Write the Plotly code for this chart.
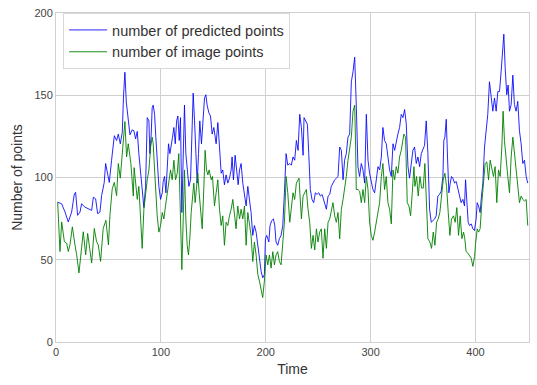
import plotly.graph_objects as go

# Time values and series values
t_pred = [1.6, 5.4, 8.6, 11.7, 14.9, 17.5, 18.7, 20.6, 22.9, 24.4, 27.6, 30.8, 34, 35.6, 37.8, 39.7, 41.9, 43.5, 46,
          47.3, 49.2, 50.8, 53, 55.6, 57.8, 59.4, 61.3, 63.2, 64.4, 65.7, 67, 68.9, 70.5, 72.7, 74.3, 75.9, 77.5, 79,
          80.6, 82.2, 83.8, 85.4, 87, 88.6, 89.5, 90.8, 91.7, 92.7, 94, 95.2, 96.5, 98.1, 99.7, 101.3, 102.2, 103.5,
          104.8, 106, 107.3, 108.6, 109.8, 111.1, 112.4, 113.7, 115, 116.2, 117.5, 118.7, 120, 121.3, 122.5, 123.8,
          125.1, 126.7, 128.3, 129.5, 130.8, 132.1, 133.3, 134.6, 135.9, 137.1, 138.7, 140.3, 141.6, 142.9, 144.1,
          145.7, 147.3, 148.9, 150.5, 152.7, 154.3, 155.9, 157.5, 159, 160.6, 162.2, 163.8, 165.4, 167, 167.9, 169.2,
          170.8, 172.4, 173.7, 175, 176.5, 178.1, 179.7, 181.3, 182.9, 184.4, 186, 187.6, 189.2, 190.8, 192.4, 194,
          195.6, 197.1, 198.7, 199.7, 200.9, 202.9, 204.1, 205.7, 207.3, 208.6, 209.8, 211.4, 213, 214.6, 216.2,
          217.8, 219.4, 221, 222.9, 224.4, 226, 227.6, 229.2, 230.8, 232.4, 234, 235.6, 236.5, 238.1, 239.7, 241,
          242.5, 244.1, 245.7, 247.3, 248.9, 250.5, 252.1, 253.7, 255.2, 256.5, 257.8, 259.4, 261, 262.5, 264.1,
          265.7, 267.3, 268.9, 270.5, 272.1, 273.7, 275.2, 276.8, 278.4, 280, 281.6, 283.2, 284.8, 286.3, 287.9,
          289.5, 291.1, 292.7, 294.3, 295.9, 297.5, 299, 300.6, 302.2, 303.8, 305.4, 307, 308.6, 310.2, 311.7,
          313.3, 314.9, 316.5, 318.1, 319.7, 321.3, 322.9, 324.4, 326, 327.6, 329.2, 330.8, 332.4, 334, 335.6,
          337.1, 340.3, 341.9, 343.5, 345.1, 346.7, 348.3, 349.8, 351.4, 353, 354.6, 356.2, 357.8, 359.4, 361,
          362.5, 364.1, 365.7, 367.3, 368.9, 369.8, 370.8, 372.1, 373.3, 374.6, 375.9, 377.1, 378.4, 380, 381.6,
          383.2, 384.8, 386.3, 387.9, 389.5, 390.5, 391.7, 393, 394.3, 395.9, 397.5, 399, 400.6, 401.6, 402.9,
          404.4, 405.7, 407, 408.6, 410.2, 411.7, 413.3, 414.9, 416.5, 418.1, 419.7, 421.3, 422.9, 424.4, 426, 427,
          428.3, 429.8, 431.1, 432.4, 434, 435.6, 437.1, 438.7, 440.3, 441.9, 443.5, 445.1, 446.7, 448.3, 449.8]
predicted = [85, 84, 79, 73, 79, 90, 91, 77, 79, 84, 82, 81, 80, 88, 87, 78, 79, 89, 97,
             108.5, 102.6, 97, 110.5, 125.4, 122.5, 126.4, 120.5, 127.4, 150, 164, 146, 134, 126, 129, 128.4, 123.5,
             128, 114.5, 104.6, 90.7, 81.7, 94.6, 136.4, 134.4, 114.5, 126.4, 142.3, 144, 138.4, 124.5, 108.5, 94.6,
             86.7, 90.7, 97.6, 100.6, 90.7, 108.5, 120.5, 114.5, 118.5, 124.5, 130.4, 120.5, 134.4, 137.4, 122.5,
             136.4, 78.7, 122.5, 144, 114.5, 104.6, 94.6, 98.6, 124.5, 151.3, 134.4, 118.5, 96.6, 114.5, 134.4,
             120.5, 134.4, 148.3, 150.3, 144, 139.4, 137.4, 126.4, 130.4, 120.5, 133.4, 118.5, 102.6, 104.6, 95.6,
             101.6, 96.6, 99.6, 104.6, 112.5, 98.6, 113.5, 100.6, 95.6, 104.6, 108.5, 96.6, 90.7, 82.7, 94.6, 86.7,
             78.7, 64.8, 70.8, 66.8, 58.8, 52.9, 43, 39, 41, 62.8, 64.8, 60.8, 70.8, 73.8, 74.8, 70.8, 60.8, 58.8,
             62.8, 64.8, 70.8, 90.7, 114.5, 107.5, 108.5, 107.5, 112.5, 110.5, 122.5, 116.5, 138.4, 130.4, 113.5,
             136.4, 134.4, 132.4, 114.5, 92.7, 86.7, 84.7, 90.7, 89.7, 90.7, 88.7, 89.7, 86.7, 84.7, 80.7, 88.7,
             89.7, 94.6, 96.6, 98.6, 99.6, 100.6, 118.5, 116.5, 98.6, 110.5, 114.5, 124.5, 126.4, 158.2, 164.2,
             173.1, 144, 106.6, 100.6, 108.5, 104.6, 96.6, 138.4, 110.5, 102.6, 96.6, 92.7, 90.7, 100.6, 106.6,
             104.6, 112.5, 130.4, 122.5, 120.5, 110.5, 104.6, 100.6, 120.5, 116.5, 122.5, 126.4, 130.4, 138.4,
             136.4, 141.3, 132.4, 106.6, 99.6, 116.5, 118.5, 108.5, 112.5, 106.6, 114.5, 116.5, 119.5, 134.4, 114.5,
             80.7, 72.8, 73.8, 74.8, 76.7, 88.7, 89.7, 91.7, 100.6, 122.5, 124.5, 135.4, 112.5, 90.7, 96.6, 100.6,
             99.6, 96.6, 97.6, 92.7, 88.7, 84.7, 86.7, 82.7, 98.6, 84.7, 72.8, 70.8, 71.8, 68.8, 67.8, 74.8, 84.7,
             82.7, 78.7, 88.7, 96.6, 118.5, 130.4, 138.4, 158.2, 148.3, 140.3, 148.3, 140.3, 152.3, 152.3, 164.2,
             176.1, 187.1, 166.2, 150.3, 156.2, 140.3, 144.3, 162.2, 144.3, 140.3, 146.3, 128.4, 120.5, 108.5,
             110.5, 100.6, 96.6]

t_image = [1.6, 3.8, 5.4, 8, 10.2, 11.7, 13.3, 15.6, 18.1, 19.7, 21.9, 24.4, 26, 28.3, 30.2, 32.1, 34, 36.5, 38.7,
           40.3, 42.5, 45, 47.6, 50, 51.4, 53.6, 55.6, 57.8, 59.4, 61.3, 62.5, 64.1, 65.7, 67.3, 68.9, 71.4, 73.7,
           74.5, 75.9, 77.5, 79, 80.6, 82.2, 83.8, 85.4, 87, 88.6, 90.2, 91.7, 92.7, 94, 95.2, 96.5, 98.1, 99.7,
           101.3, 102.9, 104.4, 106, 107.6, 109.2, 110.8, 112.4, 114, 115.6, 117.1, 118.7, 120, 121.3, 122.5, 123.8,
           125.1, 126.3, 127.6, 128.9, 130.2, 131.4, 132.7, 134, 135.2, 136.5, 137.8, 139.4, 141, 142.2, 143.5,
           144.8, 146, 148, 149.2, 151.1, 152.7, 154.3, 155.9, 157.5, 159, 160.6, 162.2, 163.8, 165.4, 167, 168.6,
           170.2, 171.7, 173.3, 175, 176.5, 178.1, 179.7, 181.3, 182.9, 184.4, 186, 187.6, 189.2, 190.8, 192.4, 194,
           195.6, 197.1, 198.7, 200.3, 201.9, 203.5, 205.1, 206.7, 208.3, 209.8, 211.4, 213, 214.6, 216.2, 217.8,
           219.4, 221, 222.9, 226, 227.6, 229.2, 231.7, 234, 235.6, 238.7, 240.3, 241.9, 243.5, 245.1, 246.7, 248.3,
           249.8, 251.4, 253, 254.6, 256.2, 257.8, 259.4, 261, 264.1, 265.7, 267.3, 268.9, 270.5, 272.1, 273.7,
           275.2, 276.8, 278.4, 280, 281.6, 283.2, 284.8, 285.7, 286.3, 287.9, 289.5, 291.1, 292.7, 294.3, 295.9,
           297.5, 299, 300.6, 302.2, 303.8, 305.4, 307, 308.6, 310.2, 311.7, 313.3, 314.9, 316.5, 318.1, 319.7,
           321.3, 322.9, 324.4, 326, 327.6, 329.2, 331.7, 333.3, 334.9, 336.5, 338.1, 339.7, 341.3, 342.2, 343.8,
           345.4, 347, 348.6, 350.2, 351.7, 353.3, 354.6, 356.5, 358.1, 359.7, 361.3, 362.9, 364.4, 366, 367.6,
           369.2, 370.8, 372.4, 374, 375.6, 377.1, 379, 380.6, 382.2, 383.8, 385.4, 387, 388.6, 389.8, 391, 392.7,
           394.3, 395.9, 397.5, 399.1, 400.1, 401.6, 402.9, 404.4, 406, 407.6, 409.2, 410.8, 412.4, 414, 415.6,
           417.1, 418.7, 420.3, 421.9, 423.5, 425.1, 426.3, 427.6, 429.2, 430.8, 432.4, 434, 435.6, 437.1, 438.7,
           440.3, 441.9, 443.5, 445.1, 446.7, 448.3, 449.8]
image = [85, 55, 73, 61, 60, 55, 59, 70, 59, 53, 42, 59, 67, 53, 66, 57, 48, 69, 61,
         59, 49, 69, 74, 59, 77, 93, 97, 89, 108.5, 99.6, 110.5, 124.5, 134, 112.5, 120.5, 108.5, 88.7,
         106, 94.6, 86.7, 94.6, 76.7, 56.9, 80.7, 90.7, 98.6, 104.6, 118.5, 124.5, 120.5, 104.6, 90.7, 76.7, 66.8,
         70.8, 78.7, 74.8, 82.7, 90.7, 98.6, 104.6, 98.6, 110.5, 98.6, 102.6, 114.5, 64.8, 44, 74.8, 104.6, 74.8,
         58.8, 52.9, 62.8, 78.7, 90.7, 96.6, 84.7, 94.6, 102.6, 90.7, 78.7, 68.8, 94.6, 116.5, 104.6,
         101.6, 104.6, 98.6, 100.6, 82.7, 90.7, 98.6, 80.7, 70.8, 76.7, 58.8, 72.8, 70.8, 76.7, 80.7, 86.7,
         76.7, 68.8, 82.7, 74.8, 80.7, 74.8, 82.7, 58.8, 78.7, 70.8, 64.8, 48.9, 60.8, 52.9, 41, 37,
         31, 27, 37, 52.9, 46.9, 52.9, 44.9, 54.9, 46.9, 52.9, 54.9, 48.9, 46.9, 62.8, 72.8,
         100.6, 90.7, 72.8, 90.7, 86.7, 96.6, 99.6, 74.8, 88.7, 92.7, 80.7, 72.8, 56.9, 64.8, 55.9, 68.8,
         60.8, 66.8, 68.8, 50.9, 68.8, 56.9, 72.8, 74.8, 84.7, 76.7, 72.8, 78.7, 62.8, 80.7, 86.7,
         92.7, 100.6, 110.5, 116.5, 124.5, 140.3, 144, 118.5, 92.7, 92.7, 91.7, 84.7, 92.7, 84.7, 100.6,
         92.7, 72.8, 64.8, 61.8, 66.8, 72.8, 78.7, 84.7, 100.6, 108.5, 92.7, 100.6, 84.7, 80.7, 71.8,
         104.6, 98.6, 106.6, 102.6, 112.5, 116.5, 126.4, 124.5, 84.7, 82.7, 76.7, 90.7, 106.6, 94.6, 100.6,
         88.7, 100.6, 93.6, 93.6, 108.5, 84.7, 62.8, 60.8, 56.9, 66.8, 58.8, 72.8, 74.8, 78.7, 88.7,
         98.6, 102.6, 94.6, 78.7, 64.8, 74.8, 76.7, 72.8, 81.7, 64.8, 76.7, 62.8, 66.8, 62.8, 55, 54,
         52, 50.9, 46, 52, 60, 68.8, 66.8, 68.8, 84.7, 94.6, 108.5, 109.5, 98.6, 110.5, 104.6,
         100.6, 106.6, 84.7, 104.6, 100.6, 118.5, 140.3, 122.5, 108.5, 100.6, 90.7, 112.5, 124.5, 114.5, 106.6,
         96.6, 84.7, 88.7, 86.7, 85.7, 86.7, 70.8]

x_ticks = [0, 100, 200, 300, 400]
y_ticks = [0, 50, 100, 150, 200]

FONT = "Liberation Sans, Arial, sans-serif"

fig = go.Figure()
fig.add_trace(go.Scatter(x=t_pred, y=predicted, mode="lines", name="number of predicted points",
                         line=dict(color="rgba(0,0,255,0.85)", width=1)))
fig.add_trace(go.Scatter(x=t_image, y=image, mode="lines", name="number of image points",
                         line=dict(color="rgba(0,128,0,0.9)", width=1)))

axis_common = dict(showgrid=True, gridcolor="#d0d0d0", gridwidth=1, zeroline=False,
                   showline=True, linecolor="#d0d0d0", linewidth=1, mirror=True,
                   ticks="", tickfont=dict(family=FONT, size=11, color="#444444"))

fig.update_layout(
    width=537, height=385,
    margin=dict(l=56, r=7, t=7, b=43),
    paper_bgcolor="white", plot_bgcolor="white",
    font=dict(family=FONT, color="#333333"),
    xaxis=dict(range=[0, 451], tickvals=x_ticks, ticktext=[str(v) for v in x_ticks],
               title=dict(text="Time", font=dict(family=FONT, size=14, color="#333333"), standoff=6),
               **axis_common),
    yaxis=dict(range=[0, 200], tickvals=y_ticks, ticktext=[str(v) for v in y_ticks],
               title=dict(text="Number of points", font=dict(family=FONT, size=14, color="#333333"), standoff=8),
               **axis_common),
    legend=dict(x=0.015, y=1.0, xanchor="left", yanchor="top",
                bgcolor="white", bordercolor="#d8d8d8", borderwidth=1,
                font=dict(family=FONT, size=14.5, color="#333333"),
                itemwidth=38, tracegroupgap=0),
    showlegend=True,
)

fig.write_html("out.html")
